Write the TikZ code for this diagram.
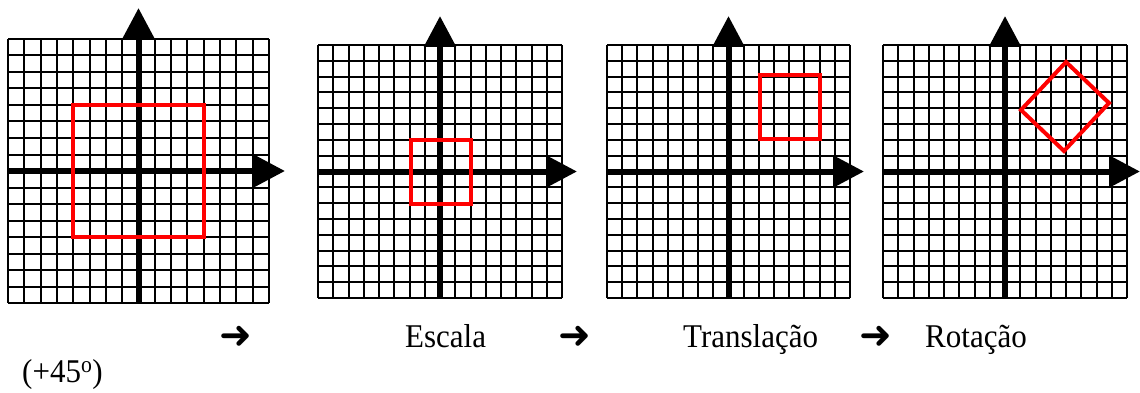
\documentclass[tikz,border=0pt]{standalone}
\usepackage{fontspec}
\setmainfont{Liberation Serif}
\newfontfamily\arrowfont{DejaVu Sans}
\usetikzlibrary{arrows.meta}
\tikzset{
  gridline/.style={draw=black, line width=2pt},
  axisline/.style={draw=black, line width=6pt, -{Triangle[width=31pt,length=31pt]}},
  redshape/.style={draw=red, line width=4pt, line join=miter},
  lbl/.style={inner sep=0pt, anchor=base west, font=\fontsize{31}{31}\selectfont},
  arr/.style={inner sep=0pt, anchor=base west, font=\fontsize{39}{39}\selectfont\arrowfont}
}
\newcommand{\tallt}[1]{\scalebox{1}[1.07]{#1}}
\begin{document}
\begin{tikzpicture}[x=1pt,y=-1pt]
\useasboundingbox (0,0) rectangle (1140,393);
% grids with axes
\foreach \xa/\ya/\xb/\yb/\ty/\tx in {8/39/269/303/8/285, 318/45/562/298/16/577, 607/45/850/298/16/864, 883/45/1127/298/16/1140} {
  \foreach \i in {0,...,16} {
    \draw[gridline] ({\xa+\i*(\xb-\xa)/16},\ya) -- ({\xa+\i*(\xb-\xa)/16},\yb);
    \draw[gridline] (\xa,{\ya+\i*(\yb-\ya)/16}) -- (\xb,{\ya+\i*(\yb-\ya)/16});
  }
  \draw[axisline] ({(\xa+\xb)/2},\yb) -- ({(\xa+\xb)/2},\ty);
  \draw[axisline] (\xa,{(\ya+\yb)/2}) -- (\tx,{(\ya+\yb)/2});
}
% red shapes
\draw[redshape] (73.25,105) rectangle (203.75,237);
\draw[redshape] (410.5,140) rectangle (471,204);
\draw[redshape] (759.5,75) rectangle (819.5,139.5);
\draw[redshape] (1066,62) -- (1109,103) -- (1064,151) -- (1021,110) -- cycle;
% labels
\node[arr] (a1) at (219,348) {➜};
\node[lbl] (escala) at (405,347) {\tallt{Escala}};
\node[arr] (a2) at (558,348) {➜};
\node[lbl] (transl) at (683,347) {\tallt{Translação}};
\node[arr] (a3) at (859,348) {➜};
\node[lbl] (rot) at (925,347) {\tallt{Rotação}};
\node[lbl] (ang) at (22,382) {\tallt{(+45\textsuperscript{o})}};
\end{tikzpicture}
\end{document}
